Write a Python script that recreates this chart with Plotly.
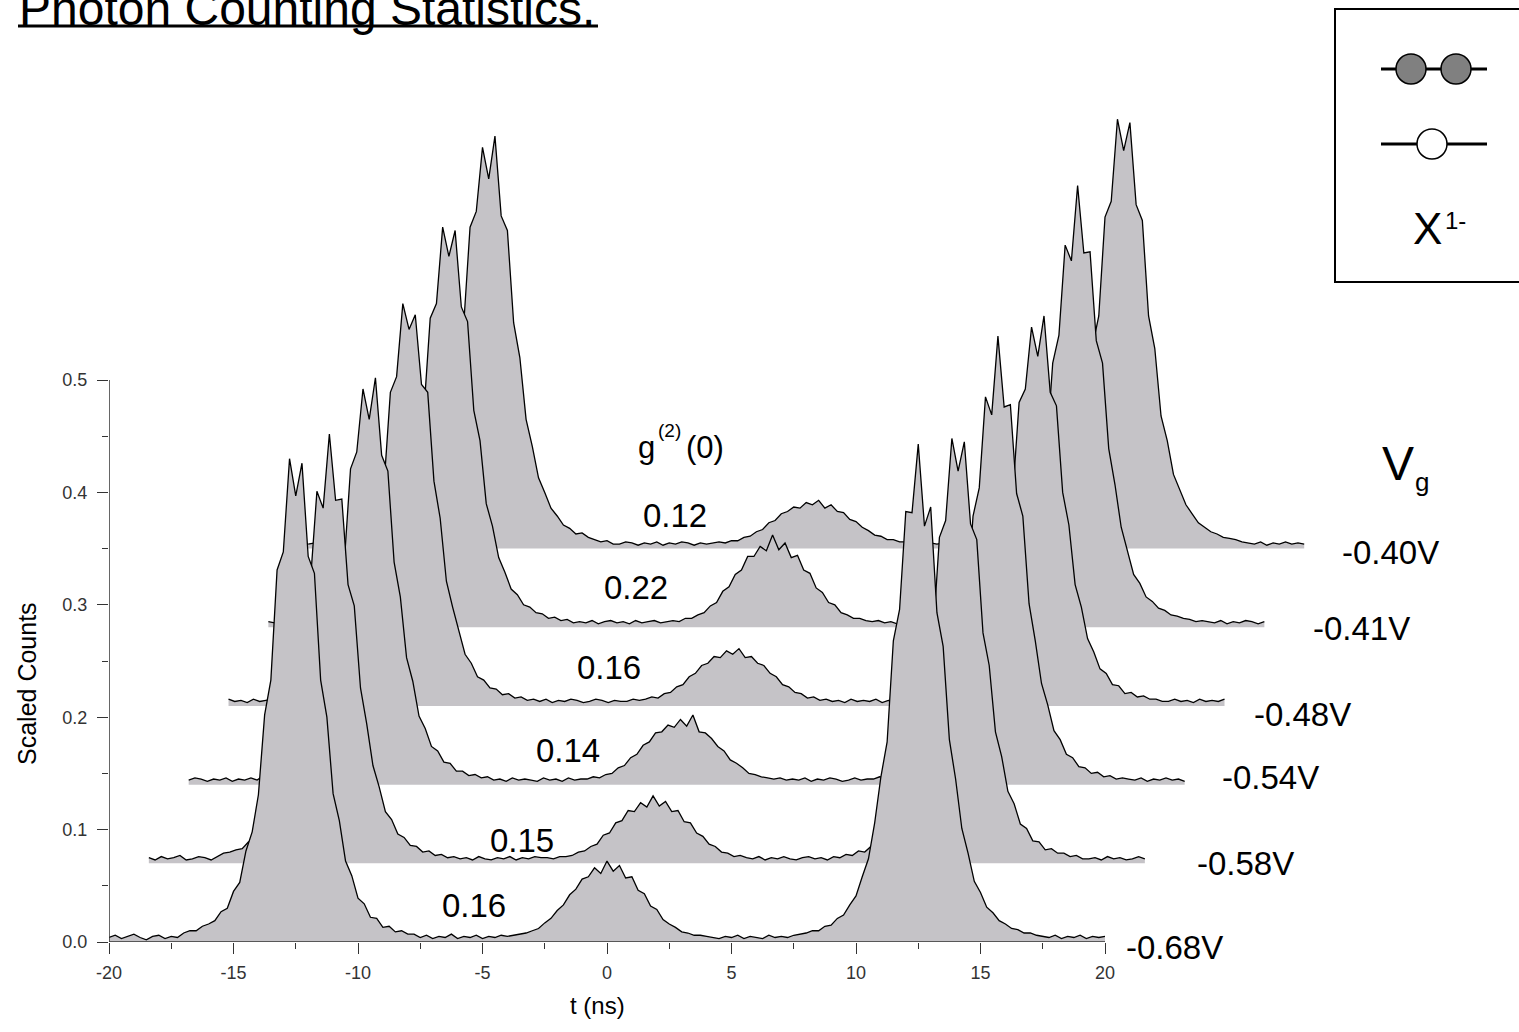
import plotly.graph_objects as go

# ---------------- data ----------------
t_ns = [
    -20.0, -19.75, -19.5, -19.25, -19.0, -18.75, -18.5, -18.25, -18.0, -17.75, -17.5, -17.25,
    -17.0, -16.75, -16.5, -16.25, -16.0, -15.75, -15.5, -15.25, -15.0, -14.75, -14.5, -14.25,
    -14.0, -13.75, -13.5, -13.25, -13.0, -12.75, -12.5, -12.25, -12.0, -11.75, -11.5, -11.25,
    -11.0, -10.75, -10.5, -10.25, -10.0, -9.75, -9.5, -9.25, -9.0, -8.75, -8.5, -8.25,
    -8.0, -7.75, -7.5, -7.25, -7.0, -6.75, -6.5, -6.25, -6.0, -5.75, -5.5, -5.25,
    -5.0, -4.75, -4.5, -4.25, -4.0, -3.75, -3.5, -3.25, -3.0, -2.75, -2.5, -2.25,
    -2.0, -1.75, -1.5, -1.25, -1.0, -0.75, -0.5, -0.25, 0.0, 0.25, 0.5, 0.75,
    1.0, 1.25, 1.5, 1.75, 2.0, 2.25, 2.5, 2.75, 3.0, 3.25, 3.5, 3.75,
    4.0, 4.25, 4.5, 4.75, 5.0, 5.25, 5.5, 5.75, 6.0, 6.25, 6.5, 6.75,
    7.0, 7.25, 7.5, 7.75, 8.0, 8.25, 8.5, 8.75, 9.0, 9.25, 9.5, 9.75,
    10.0, 10.25, 10.5, 10.75, 11.0, 11.25, 11.5, 11.75, 12.0, 12.25, 12.5, 12.75,
    13.0, 13.25, 13.5, 13.75, 14.0, 14.25, 14.5, 14.75, 15.0, 15.25, 15.5, 15.75,
    16.0, 16.25, 16.5, 16.75, 17.0, 17.25, 17.5, 17.75, 18.0, 18.25, 18.5, 18.75,
    19.0, 19.25, 19.5, 19.75, 20.0,
]

counts_m068 = [
    0.004, 0.006, 0.003, 0.005, 0.007, 0.004, 0.002, 0.005, 0.006, 0.003, 0.005, 0.004,
    0.008, 0.010, 0.010, 0.014, 0.016, 0.019, 0.027, 0.030, 0.045, 0.053, 0.081, 0.098,
    0.131, 0.202, 0.233, 0.331, 0.347, 0.430, 0.397, 0.426, 0.343, 0.328, 0.233, 0.200,
    0.132, 0.108, 0.072, 0.059, 0.039, 0.034, 0.022, 0.021, 0.013, 0.014, 0.009, 0.010,
    0.007, 0.007,
    0.004, 0.006, 0.003, 0.005, 0.004, 0.007, 0.003, 0.005, 0.004, 0.006, 0.003, 0.005, 0.004, 0.006,
    0.005, 0.006, 0.007, 0.008, 0.010, 0.012, 0.017, 0.021, 0.028, 0.033, 0.042, 0.047,
    0.056, 0.058, 0.066, 0.061, 0.072, 0.063, 0.068, 0.057, 0.058, 0.046, 0.043, 0.032,
    0.029, 0.020, 0.016, 0.013, 0.009, 0.008, 0.006, 0.006, 0.005,
    0.004, 0.003, 0.005, 0.004, 0.006, 0.003, 0.005, 0.004, 0.003, 0.006, 0.004, 0.005, 0.004,
    0.006, 0.007, 0.008, 0.010, 0.010, 0.014, 0.015, 0.021, 0.024, 0.033, 0.041, 0.058,
    0.074, 0.106, 0.147, 0.178, 0.268, 0.296, 0.383, 0.382, 0.443, 0.370, 0.387, 0.293,
    0.263, 0.180, 0.145, 0.101, 0.079, 0.054, 0.044, 0.031, 0.026, 0.019, 0.016, 0.012,
    0.011, 0.008, 0.008, 0.006, 0.005,
    0.004, 0.006, 0.003, 0.005, 0.004, 0.006, 0.003, 0.005, 0.004, 0.005,
]

counts_m058 = [
    0.005, 0.003, 0.006, 0.004, 0.005, 0.007, 0.003, 0.004, 0.006, 0.005, 0.003, 0.006,
    0.009, 0.010, 0.012, 0.013, 0.019, 0.020, 0.030, 0.035, 0.051, 0.062, 0.094, 0.126,
    0.152, 0.229, 0.254, 0.331, 0.316, 0.382, 0.323, 0.324, 0.248, 0.229, 0.156, 0.124,
    0.087, 0.068, 0.046, 0.039, 0.026, 0.023, 0.016, 0.015, 0.010, 0.011, 0.007, 0.008,
    0.005, 0.006,
    0.004, 0.005, 0.003, 0.006, 0.004, 0.003, 0.005, 0.004, 0.006, 0.003, 0.005, 0.004, 0.006, 0.005,
    0.005, 0.004, 0.006, 0.006, 0.007, 0.010, 0.011, 0.015, 0.017, 0.025, 0.027, 0.036,
    0.038, 0.047, 0.046, 0.054, 0.050, 0.060, 0.051, 0.055, 0.046, 0.047, 0.037, 0.036,
    0.027, 0.024, 0.017, 0.015, 0.010, 0.009, 0.006, 0.007, 0.005,
    0.004, 0.006, 0.003, 0.005, 0.004, 0.006, 0.004, 0.003, 0.005, 0.006, 0.004, 0.005, 0.003,
    0.006, 0.005, 0.008, 0.007, 0.011, 0.010, 0.015, 0.016, 0.024, 0.027, 0.039, 0.047,
    0.070, 0.089, 0.116, 0.178, 0.205, 0.290, 0.305, 0.378, 0.349, 0.375, 0.302, 0.288,
    0.205, 0.176, 0.117, 0.095, 0.064, 0.053, 0.035, 0.031, 0.020, 0.019, 0.012, 0.013,
    0.009, 0.009, 0.006, 0.007, 0.004,
    0.004, 0.005, 0.003, 0.006, 0.004, 0.005, 0.003, 0.004, 0.006, 0.004,
]

counts_m054 = [
    0.004, 0.006, 0.005, 0.003, 0.005, 0.004, 0.006, 0.003, 0.005, 0.004, 0.006, 0.004,
    0.008, 0.011, 0.010, 0.015, 0.016, 0.023, 0.026, 0.038, 0.046, 0.067, 0.086, 0.112,
    0.169, 0.198, 0.281, 0.296, 0.352, 0.325, 0.362, 0.293, 0.279, 0.198, 0.167, 0.113,
    0.092, 0.061, 0.050, 0.034, 0.030, 0.020, 0.019, 0.012, 0.012, 0.008, 0.009, 0.006,
    0.007, 0.004,
    0.005, 0.003, 0.006, 0.004, 0.005, 0.004, 0.003, 0.006, 0.004, 0.005, 0.003, 0.006, 0.004, 0.005,
    0.005, 0.007, 0.006, 0.009, 0.010, 0.015, 0.017, 0.024, 0.027, 0.035, 0.038, 0.046,
    0.047, 0.053, 0.051, 0.058, 0.052, 0.062, 0.047, 0.046, 0.041, 0.034, 0.030, 0.022,
    0.019, 0.015, 0.010, 0.009, 0.007, 0.006, 0.005, 0.006, 0.004,
    0.005, 0.004, 0.006, 0.003, 0.005, 0.004, 0.006, 0.005, 0.003, 0.004, 0.006, 0.004, 0.005,
    0.005, 0.007, 0.006, 0.009, 0.009, 0.013, 0.013, 0.019, 0.021, 0.031, 0.036, 0.053,
    0.065, 0.097, 0.130, 0.158, 0.239, 0.264, 0.345, 0.329, 0.399, 0.336, 0.338, 0.259,
    0.239, 0.161, 0.128, 0.090, 0.071, 0.048, 0.040, 0.027, 0.024, 0.016, 0.015, 0.010,
    0.011, 0.007, 0.008, 0.005, 0.006,
    0.005, 0.004, 0.006, 0.003, 0.005, 0.004, 0.006, 0.004, 0.005, 0.003,
]

counts_m048 = [
    0.006, 0.004, 0.005, 0.003, 0.006, 0.004, 0.005, 0.006, 0.003, 0.005, 0.004, 0.006,
    0.009, 0.010, 0.012, 0.014, 0.018, 0.021, 0.029, 0.035, 0.049, 0.062, 0.091, 0.113,
    0.167, 0.198, 0.279, 0.293, 0.358, 0.335, 0.348, 0.286, 0.279, 0.200, 0.167, 0.111,
    0.088, 0.066, 0.046, 0.038, 0.026, 0.023, 0.016, 0.015, 0.010, 0.011, 0.007, 0.008,
    0.005, 0.006,
    0.004, 0.006, 0.003, 0.005, 0.004, 0.006, 0.005, 0.003, 0.004, 0.006, 0.005, 0.003, 0.005, 0.004,
    0.004, 0.006, 0.005, 0.006, 0.008, 0.007, 0.011, 0.012, 0.017, 0.019, 0.026, 0.029,
    0.036, 0.038, 0.044, 0.043, 0.049, 0.046, 0.051, 0.043, 0.044, 0.038, 0.036, 0.029,
    0.026, 0.019, 0.017, 0.012, 0.011, 0.007, 0.008, 0.005, 0.006,
    0.004, 0.005, 0.003, 0.006, 0.004, 0.005, 0.004, 0.006, 0.003, 0.005, 0.004, 0.006, 0.004,
    0.006, 0.005, 0.008, 0.007, 0.010, 0.010, 0.014, 0.016, 0.022, 0.025, 0.037, 0.043,
    0.065, 0.082, 0.107, 0.162, 0.190, 0.270, 0.282, 0.337, 0.311, 0.347, 0.279, 0.267,
    0.190, 0.161, 0.108, 0.088, 0.060, 0.048, 0.033, 0.029, 0.019, 0.018, 0.011, 0.012,
    0.008, 0.009, 0.006, 0.006, 0.004,
    0.004, 0.006, 0.004, 0.005, 0.003, 0.006, 0.004, 0.005, 0.004, 0.006,
]

counts_m041 = [
    0.005, 0.004, 0.006, 0.003, 0.005, 0.006, 0.004, 0.003, 0.005, 0.004, 0.006, 0.005,
    0.008, 0.010, 0.012, 0.013, 0.018, 0.022, 0.028, 0.037, 0.045, 0.066, 0.085, 0.109,
    0.168, 0.193, 0.275, 0.288, 0.356, 0.330, 0.353, 0.285, 0.272, 0.193, 0.166, 0.110,
    0.090, 0.062, 0.049, 0.034, 0.029, 0.020, 0.018, 0.013, 0.012, 0.008, 0.009, 0.006,
    0.007, 0.004,
    0.005, 0.004, 0.006, 0.003, 0.005, 0.006, 0.004, 0.005, 0.003, 0.006, 0.004, 0.005, 0.006, 0.004,
    0.005, 0.006, 0.005, 0.008, 0.008, 0.011, 0.013, 0.019, 0.022, 0.032, 0.036, 0.047,
    0.051, 0.063, 0.063, 0.072, 0.068, 0.082, 0.069, 0.075, 0.062, 0.064, 0.051, 0.048,
    0.035, 0.031, 0.022, 0.020, 0.013, 0.011, 0.008, 0.008, 0.006,
    0.005, 0.006, 0.004, 0.005, 0.003, 0.006, 0.004, 0.005, 0.004, 0.006, 0.003, 0.005, 0.004,
    0.005, 0.007, 0.006, 0.009, 0.010, 0.013, 0.015, 0.017, 0.023, 0.028, 0.036, 0.051,
    0.066, 0.094, 0.129, 0.156, 0.235, 0.260, 0.340, 0.326, 0.393, 0.333, 0.334, 0.255,
    0.235, 0.159, 0.127, 0.089, 0.069, 0.047, 0.039, 0.027, 0.023, 0.017, 0.015, 0.011,
    0.010, 0.008, 0.007, 0.005, 0.006,
    0.005, 0.004, 0.006, 0.003, 0.005, 0.004, 0.006, 0.005, 0.003, 0.005,
]

counts_m040 = [
    0.004, 0.005, 0.006, 0.003, 0.005, 0.004, 0.006, 0.004, 0.003, 0.005, 0.006, 0.004,
    0.008, 0.011, 0.011, 0.014, 0.017, 0.021, 0.028, 0.036, 0.049, 0.066, 0.088, 0.114,
    0.172, 0.201, 0.286, 0.300, 0.357, 0.329, 0.367, 0.296, 0.283, 0.201, 0.170, 0.115,
    0.091, 0.063, 0.050, 0.036, 0.029, 0.021, 0.018, 0.013, 0.014, 0.010, 0.008, 0.006,
    0.007, 0.004,
    0.004, 0.006, 0.005, 0.003, 0.005, 0.004, 0.006, 0.003, 0.005, 0.004, 0.006, 0.005, 0.003, 0.005,
    0.004, 0.005, 0.006, 0.005, 0.007, 0.007, 0.010, 0.011, 0.015, 0.017, 0.023, 0.025,
    0.031, 0.033, 0.037, 0.036, 0.041, 0.039, 0.043, 0.036, 0.039, 0.033, 0.032, 0.026,
    0.024, 0.019, 0.016, 0.012, 0.011, 0.008, 0.008, 0.006, 0.006,
    0.004, 0.006, 0.003, 0.005, 0.004, 0.005, 0.006, 0.003, 0.005, 0.004, 0.006, 0.004, 0.005,
    0.004, 0.006, 0.006, 0.008, 0.009, 0.011, 0.012, 0.015, 0.018, 0.024, 0.028, 0.039,
    0.049, 0.069, 0.091, 0.117, 0.180, 0.207, 0.295, 0.309, 0.382, 0.354, 0.379, 0.306,
    0.292, 0.207, 0.178, 0.118, 0.096, 0.066, 0.052, 0.039, 0.031, 0.023, 0.019, 0.015,
    0.013, 0.010, 0.009, 0.008, 0.006,
    0.005, 0.004, 0.006, 0.003, 0.005, 0.004, 0.006, 0.004, 0.005, 0.004,
]

voltages = ["-0.68V", "-0.58V", "-0.54V", "-0.48V", "-0.41V", "-0.40V"]
g2_values = ["0.16", "0.15", "0.14", "0.16", "0.22", "0.12"]
series = [counts_m068, counts_m058, counts_m054, counts_m048, counts_m041, counts_m040]
# waterfall offsets of each curve (ns, scaled counts)
x_offsets = [0.0, 1.6, 3.2, 4.8, 6.4, 8.0]
y_offsets = [0.0, 0.07, 0.14, 0.21, 0.28, 0.35]

x_ticks = [-20, -15, -10, -5, 0, 5, 10, 15, 20]
x_tick_text = ["-20", "-15", "-10", "-5", "0", "5", "10", "15", "20"]
x_minor = [-17.5, -12.5, -7.5, -2.5, 2.5, 7.5, 12.5, 17.5]
y_ticks = [0.0, 0.1, 0.2, 0.3, 0.4, 0.5]
y_tick_text = ["0.0", "0.1", "0.2", "0.3", "0.4", "0.5"]
y_minor = [0.05, 0.15, 0.25, 0.35, 0.45]

for s in series:
    assert len(s) == len(t_ns), len(s)

# ---------------- layout constants ----------------
W, H = 1519, 1032
ML, MB = 109, 90
PW, PH = W - ML, H - MB
X_PER_PX = 40.0 / 996.0
Y_PER_PX = 0.5 / 562.0
X_MAX = -20 + PW * X_PER_PX
Y_MAX = PH * Y_PER_PX
FILL = "#c5c3c7"
FONT = "Arial, Liberation Sans, sans-serif"


def px(xp):
    return (xp - ML) / PW


def py(yp):
    return (PH - yp) / PH


fig = go.Figure()

# back (top) curve first so that the front curves hide it
for k in reversed(range(len(series))):
    xs = [t + x_offsets[k] for t in t_ns]
    ys = [c + y_offsets[k] for c in series[k]]
    fig.add_trace(go.Scatter(
        x=xs + xs[::-1], y=ys + [y_offsets[k]] * len(xs),
        fill="toself", fillcolor=FILL, mode="lines", line=dict(width=0),
        hoverinfo="skip", showlegend=False))
    fig.add_trace(go.Scatter(
        x=xs, y=ys, mode="lines", line=dict(color="black", width=1.3),
        name=voltages[k], showlegend=False))

axis_col = "#333333"
fig.update_layout(
    width=W, height=H,
    margin=dict(l=ML, r=0, t=0, b=MB, pad=0),
    paper_bgcolor="white", plot_bgcolor="white",
    showlegend=False,
    xaxis=dict(range=[-20, X_MAX], showgrid=False, zeroline=False, showline=False,
               tickmode="array", tickvals=x_ticks, ticktext=x_tick_text,
               ticks="outside", ticklen=11, tickwidth=1.2, tickcolor=axis_col,
               ticklabelstandoff=3,
               minor=dict(tickmode="array", tickvals=x_minor, ticks="outside",
                          ticklen=6, tickwidth=1.2, tickcolor=axis_col, showgrid=False),
               tickfont=dict(family=FONT, size=18, color=axis_col)),
    yaxis=dict(range=[0, Y_MAX], showgrid=False, zeroline=False, showline=False,
               tickmode="array", tickvals=y_ticks, ticktext=y_tick_text,
               ticks="outside", ticklen=11, tickwidth=1.2, tickcolor=axis_col,
               ticklabelstandoff=6,
               minor=dict(tickmode="array", tickvals=y_minor, ticks="outside",
                          ticklen=6, tickwidth=1.2, tickcolor=axis_col, showgrid=False),
               tickfont=dict(family=FONT, size=18, color=axis_col)),
)

shapes = [
    dict(type="line", xref="x", yref="y", x0=-20, x1=20, y0=0, y1=0,
         line=dict(color=axis_col, width=1.5), layer="above"),
    dict(type="line", xref="x", yref="y", x0=-20, x1=-20, y0=0, y1=0.5,
         line=dict(color=axis_col, width=1.5), layer="above"),
    # title underline
    dict(type="line", xref="paper", yref="paper", x0=px(18), x1=px(598), y0=py(26), y1=py(26),
         line=dict(color="black", width=3)),
    # legend-like box
    dict(type="rect", xref="paper", yref="paper", x0=px(1335), x1=px(1530), y0=py(9), y1=py(282),
         line=dict(color="black", width=2), fillcolor="rgba(0,0,0,0)"),
    dict(type="line", xref="paper", yref="paper", x0=px(1381), x1=px(1487), y0=py(69), y1=py(69),
         line=dict(color="black", width=3)),
    dict(type="line", xref="paper", yref="paper", x0=px(1381), x1=px(1487), y0=py(144), y1=py(144),
         line=dict(color="black", width=3)),
]
for cx, cy, col in [(1411, 69, "#808080"), (1456, 69, "#808080"), (1432, 144, "white")]:
    r = 15
    shapes.append(dict(type="circle", xref="paper", yref="paper",
                       x0=px(cx - r), x1=px(cx + r), y0=py(cy + r), y1=py(cy - r),
                       fillcolor=col, line=dict(color="black", width=1.5)))
fig.update_layout(shapes=shapes)

ann = []


def text(s, xp, yp, size, xanchor="center", yanchor="middle", angle=0, color="black"):
    ann.append(dict(text=s, x=px(xp), y=py(yp), xref="paper", yref="paper",
                    xanchor=xanchor, yanchor=yanchor, showarrow=False, textangle=angle,
                    borderpad=0, font=dict(family=FONT, size=size, color=color)))


text("Photon Counting Statistics.", 18, 8, 48, xanchor="left")
text("Scaled Counts", 27, 684, 25, angle=-90)
text("t (ns)", 597, 1005, 24)

g2_pos = [(474, 905), (522, 840), (568, 751), (609, 667), (636, 587), (675, 515)]
for (gx, gy), g in zip(g2_pos, g2_values):
    text(g, gx, gy, 33)

v_pos = [(1174, 947), (1245, 863), (1270, 777), (1302, 714), (1361, 628), (1390, 552)]
for (vx, vy), v in zip(v_pos, voltages):
    text(v, vx, vy, 33)

text("g", 637, 447, 31, xanchor="left")
text("(2)", 657, 430, 19, xanchor="left")
text("(0)", 685, 447, 31, xanchor="left")
text("V", 1398, 463, 48)
text("g", 1422, 482, 26)
text("X", 1427, 229, 44)
text("1-", 1455, 221, 24)

fig.update_layout(annotations=ann)
fig.write_html("out.html", config={"displayModeBar": False},
               post_script="document.body.style.margin='0px';")
